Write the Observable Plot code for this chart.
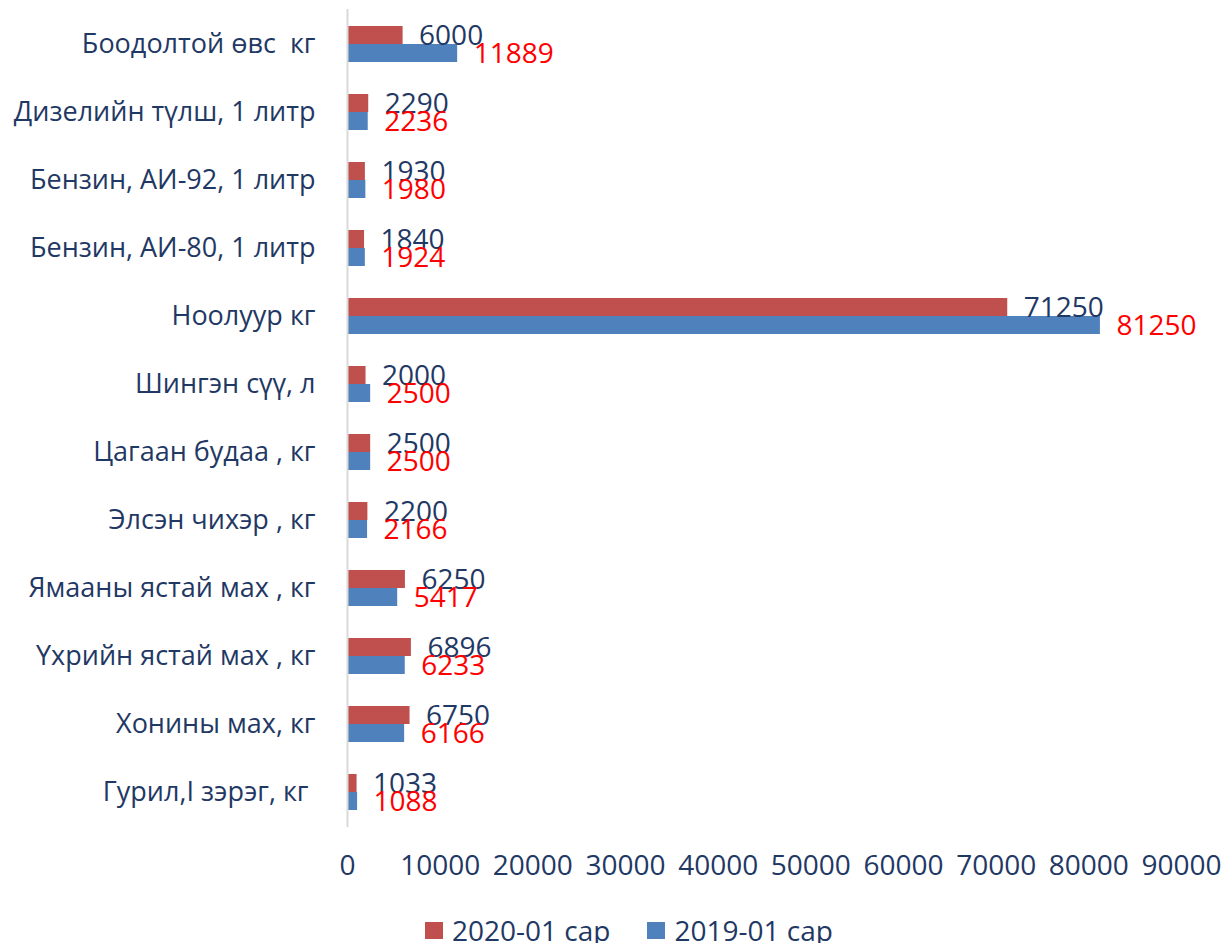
<!DOCTYPE html>
<html>
<head>
<meta charset="utf-8">
<script src="https://cdn.jsdelivr.net/npm/d3@7"></script>
<script src="https://cdn.jsdelivr.net/npm/@observablehq/plot@0.6"></script>
<style>
  html, body { margin: 0; padding: 0; background: #fff; overflow: hidden; }
  #chart svg { display: block; }
  #legend { display: flex; align-items: center; height: 50px; padding-left: 425px;
            font-family: "Open Sans", sans-serif; font-size: 28px; color: #1f3864; }
  .sw { display: inline-block; width: 18px; height: 17px; margin-right: 9px; }
  .item { display: flex; align-items: center; margin-right: 37px; }
</style>
</head>
<body>
<div id="chart"></div>
<div id="legend"></div>
<script>
const categories = [
  "Боодолтой өвс  кг",
  "Дизелийн түлш, 1 литр",
  "Бензин, АИ-92, 1 литр",
  "Бензин, АИ-80, 1 литр",
  "Ноолуур кг",
  "Шингэн сүү, л",
  "Цагаан будаа , кг",
  "Элсэн чихэр , кг",
  "Ямааны ястай мах , кг",
  "Үхрийн ястай мах , кг",
  "Хонины мах, кг",
  "Гурил,I зэрэг, кг "
];
const series = ["2020-01 сар", "2019-01 сар"];
const values2020 = [6000, 2290, 1930, 1840, 71250, 2000, 2500, 2200, 6250, 6896, 6750, 1033];
const values2019 = [11889, 2236, 1980, 1924, 81250, 2500, 2500, 2166, 5417, 6233, 6166, 1088];
const xTicks = [0, 10000, 20000, 30000, 40000, 50000, 60000, 70000, 80000, 90000];
const colors = ["#c0504d", "#4f81bd"];

const navy = "#1f3864";
const font = "Open Sans, sans-serif";

const d2020 = categories.map((c, i) => ({category: c, value: values2020[i], series: series[0]}));
const d2019 = categories.map((c, i) => ({category: c, value: values2019[i], series: series[1]}));

const chart = Plot.plot({
  width: 1224,
  height: 905,
  marginLeft: 347,
  marginRight: 43,
  marginTop: 9,
  marginBottom: 78,
  style: {fontFamily: font, background: "#fff"},
  x: {domain: [0, 90000]},
  y: {domain: categories, padding: 0},
  color: {domain: series, range: colors},
  marks: [
    Plot.barX(d2020, {x: "value", y: "category", fill: "series", insetTop: 16, insetBottom: 34}),
    Plot.barX(d2019, {x: "value", y: "category", fill: "series", insetTop: 34, insetBottom: 16}),
    Plot.ruleX([0], {stroke: "#d9d9d9", strokeWidth: 2}),
    Plot.text(d2020, {x: "value", y: "category", text: d => String(d.value), textAnchor: "start",
      dx: 16, dy: -8, fill: navy, fontSize: 28}),
    Plot.text(d2019, {x: "value", y: "category", text: d => String(d.value), textAnchor: "start",
      dx: 16, dy: 10, fill: "#ff0000", fontSize: 28}),
    Plot.axisX({ticks: xTicks, tickSize: 0, tickPadding: 28, tickFormat: d => String(d),
      fontSize: 28, color: navy, label: null}),
    Plot.axisY({tickSize: 0, tickPadding: 32, fontSize: 27, color: navy, label: null,
      tickFormat: d => d.replace(/ /g, "\u00a0")})
  ]
});
document.getElementById("chart").appendChild(chart);

const legend = document.getElementById("legend");
series.forEach((s, i) => {
  const item = document.createElement("div");
  item.className = "item";
  const sw = document.createElement("span");
  sw.className = "sw";
  sw.style.background = colors[i];
  const t = document.createElement("span");
  t.textContent = s;
  item.appendChild(sw);
  item.appendChild(t);
  legend.appendChild(item);
});
</script>
</body>
</html>
